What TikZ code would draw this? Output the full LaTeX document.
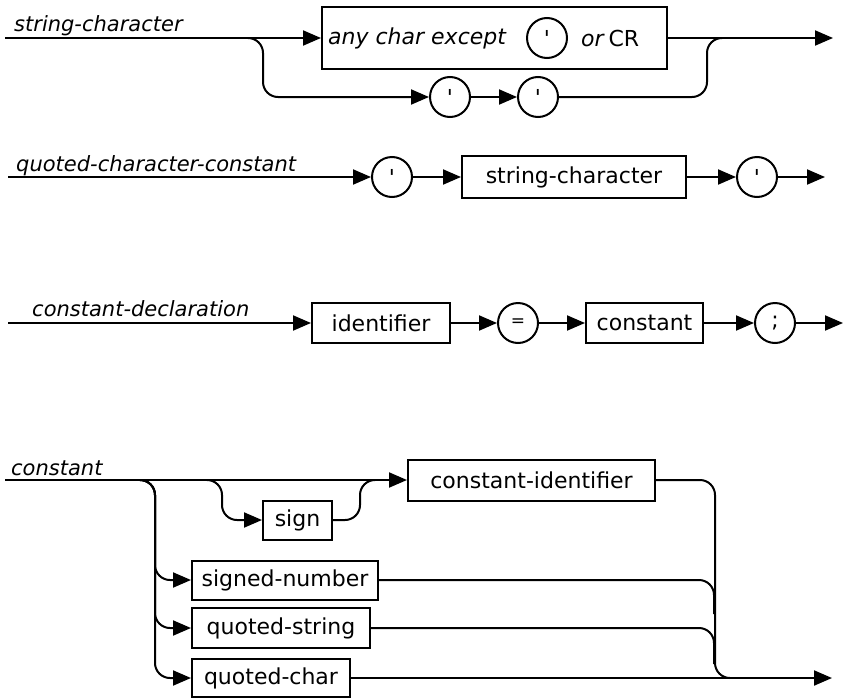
\documentclass[tikz,border=0pt]{standalone}
\usepackage{fontspec}
\setmainfont{DejaVu Sans}
\usetikzlibrary{arrows.meta}

\tikzset{
  syn/.style={line width=2pt, rounded corners=15pt},
  into/.style={syn, -{Triangle[length=18pt,width=15pt]}},
  termbox/.style={draw, line width=2pt, minimum height=40pt, inner sep=0pt},
  lit/.style={draw, circle, line width=2pt, minimum size=40pt, inner sep=0pt},
  rulename/.style={font=\fontsize{21}{25}\selectfont\itshape, inner sep=0pt, anchor=base west},
}

\begin{document}
\begin{tikzpicture}[x=1pt, y=-1pt, every node/.style={font=\fontsize{22}{26}\selectfont}]
\useasboundingbox (0,0) rectangle (848,699);

% string-character
\node[rulename] (l1) at (14,31) {string-character};
\node[termbox, minimum width=345pt, minimum height=62pt] (anyc) at (494.5,38) {};
\node[anchor=west, inner sep=0pt] (anyt) at (328,38) {\itshape any char except};
\node[lit] (anyq) at (547,38) {\textquotesingle};
\node[anchor=west, inner sep=0pt] (anycr) at (581,38) {\textit{or}\,CR};
\node[lit] (q1) at (450,97) {\textquotesingle};
\node[lit] (q2) at (538,97) {\textquotesingle};
\coordinate (s1) at (5,38);
\coordinate (b1) at (248,38);
\coordinate (j1) at (722,38);
\coordinate (e1) at (833,38);
\draw[into] (s1) -- (anyc.west);
\draw[into] (anyc.east) -- (e1);
\draw[into] (b1) -- ++(15,0) |- (q1.west);
\draw[into] (q1) -- (q2);
\draw[syn] (q2.east) -| ([xshift=-15pt]j1) -- (j1);

% quoted-character-constant
\node[rulename] (l2) at (16,171) {quoted-character-constant};
\coordinate (s2) at (8,177);
\node[lit] (c1) at (392,177) {\textquotesingle};
\node[termbox, minimum width=224pt, minimum height=42pt] (sc) at (574,177) {string-character};
\node[lit] (c2) at (757,177) {\textquotesingle};
\coordinate (e2) at (825,177);
\draw[into] (s2) -- (c1);
\draw[into] (c1) -- (sc);
\draw[into] (sc) -- (c2);
\draw[into] (c2) -- (e2);

% constant-declaration
\node[rulename] (l3) at (32,316) {constant-declaration};
\coordinate (s3) at (8,323);
\node[termbox, minimum width=138pt] (id) at (381,323) {identifier};
\node[lit, font=\fontsize{17}{20}\selectfont] (eq) at (518,323) {=};
\node[termbox, minimum width=117pt] (cst) at (644.5,323) {constant};
\node[lit] (semi) at (775,323) {;};
\coordinate (e3) at (843,323);
\draw[into] (s3) -- (id);
\draw[into] (id) -- (eq);
\draw[into] (eq) -- (cst);
\draw[into] (cst) -- (semi);
\draw[into] (semi) -- (e3);

% constant
\node[rulename] (l4) at (11,475) {constant};
\coordinate (s4) at (5,480);
\node[termbox, minimum width=247pt, minimum height=41pt] (cid) at (531.5,480) {constant-identifier};
\node[termbox, minimum width=69pt, minimum height=39pt] (sgn) at (297.5,520) {sign};
\node[termbox, minimum width=186pt, minimum height=39pt] (snum) at (285,580) {signed-number};
\node[termbox, minimum width=178pt] (qstr) at (281,628) {quoted-string};
\node[termbox, minimum width=158pt, minimum height=38pt] (qch) at (271,678) {quoted-char};
\coordinate (b4) at (140,480);
\coordinate (b5) at (207,480);
\coordinate (j5) at (375,480);
\coordinate (m1) at (714,614);
\coordinate (m2) at (714,664);
\coordinate (j4) at (730,678);
\coordinate (e4) at (832,678);
\draw[into] (s4) -- (cid);
\draw[into] (b5) -- ++(15,0) |- (sgn.west);
\draw[syn] (sgn.east) -| ([xshift=-15pt]j5) -- (j5);
\draw[into] (b4) -- ++(15,0) |- (snum.west);
\draw[into] (b4) -- ++(15,0) |- (qstr.west);
\draw[into] (b4) -- ++(15,0) |- (qch.west);
\draw[into] (qch) -- (e4);
\draw[syn] (cid.east) -| ([xshift=-15pt]j4) -- (j4);
\draw[syn] (snum.east) -| (m1);
\draw[syn] (qstr.east) -| (m2);
\end{tikzpicture}
\end{document}
